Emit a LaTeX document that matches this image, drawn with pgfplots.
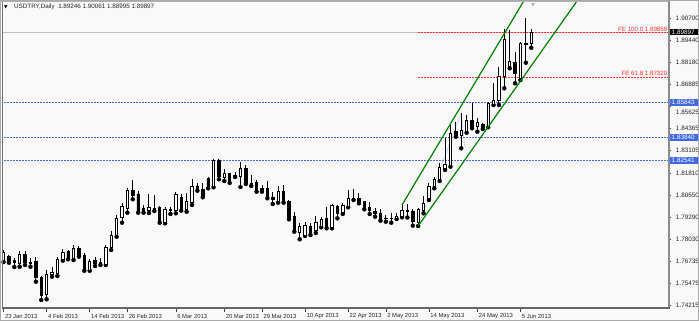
\documentclass[border=0pt]{standalone}
\usepackage{pgfplots}
\pgfplotsset{compat=1.18}
\usepackage{pgfplotstable}
\usepackage{fontspec}
\setmainfont{Liberation Sans}
\newfontfamily\symf{DejaVu Sans}
\definecolor{bgc}{RGB}{249,249,249}
\definecolor{framegray}{RGB}{170,170,170}
\definecolor{axgray}{RGB}{140,140,140}
\definecolor{lineblue}{RGB}{65,105,225}
\definecolor{fered}{RGB}{255,45,45}
\definecolor{chgreen}{RGB}{0,128,0}
\definecolor{pricegray}{RGB}{190,190,190}

\pgfplotstableread{
i o h l c
0 1.76804 1.77406 1.76718 1.77263
1 1.77022 1.77119 1.76678 1.76793
2 1.76793 1.76948 1.76432 1.76678
3 1.76661 1.77349 1.76449 1.77177
4 1.77177 1.77349 1.76546 1.76678
5 1.76690 1.76948 1.76449 1.76661
6 1.76736 1.77005 1.75590 1.75842
7 1.75842 1.75916 1.74541 1.74827
8 1.74885 1.76260 1.74581 1.76031
9 1.75991 1.76415 1.75876 1.76105
10 1.76071 1.76988 1.75916 1.76873
11 1.76873 1.77446 1.76793 1.77291
12 1.77349 1.77406 1.76873 1.76988
13 1.76930 1.77675 1.76833 1.77480
14 1.77503 1.77635 1.77022 1.77062
15 1.77119 1.77217 1.76220 1.76300
16 1.76260 1.76873 1.76220 1.76736
17 1.76793 1.76988 1.76489 1.76644
18 1.76718 1.76930 1.76546 1.76644
19 1.76604 1.77692 1.76546 1.77561
20 1.77561 1.78495 1.77406 1.78265
21 1.78265 1.79411 1.78168 1.79222
22 1.79280 1.80116 1.78970 1.79887
23 1.79795 1.80941 1.79543 1.80844
24 1.80844 1.81417 1.80311 1.80557
25 1.80615 1.80804 1.79543 1.79658
26 1.79795 1.79984 1.79543 1.79698
27 1.79698 1.80615 1.79526 1.79853
28 1.79784 1.80557 1.79641 1.79727
29 1.79853 1.79927 1.78970 1.79028
30 1.78970 1.79853 1.78936 1.79738
31 1.79698 1.79887 1.79469 1.79738
32 1.79698 1.80747 1.79509 1.80598
33 1.80426 1.80615 1.79658 1.79738
34 1.79738 1.80655 1.79601 1.80174
35 1.80139 1.81457 1.79984 1.81073
36 1.81073 1.81228 1.80804 1.80884
37 1.80884 1.81228 1.80426 1.80460
38 1.81514 1.81606 1.80941 1.81073
39 1.81073 1.82603 1.80999 1.82563
40 1.82563 1.82603 1.81457 1.81606
41 1.81572 1.82030 1.81360 1.81801
42 1.81801 1.81835 1.81245 1.81302
43 1.81703 1.81875 1.81589 1.81663
44 1.81646 1.82466 1.81016 1.82087
45 1.82087 1.82276 1.81188 1.81228
46 1.81245 1.81703 1.81073 1.81205
47 1.81262 1.81417 1.80747 1.80844
48 1.80941 1.81130 1.80747 1.80804
49 1.80941 1.81377 1.80368 1.80426
50 1.80426 1.80747 1.80042 1.80311
51 1.80174 1.81073 1.80116 1.80747
52 1.80747 1.81130 1.80116 1.80174
53 1.80174 1.80271 1.79165 1.79222
54 1.79337 1.79601 1.78455 1.78512
55 1.78437 1.78936 1.78019 1.78753
56 1.78265 1.78982 1.78208 1.78838
57 1.78781 1.78936 1.78265 1.78363
58 1.78552 1.79354 1.78380 1.79010
59 1.78741 1.79314 1.78707 1.79165
60 1.79222 1.79853 1.78649 1.78707
61 1.78707 1.80042 1.78649 1.79984
62 1.79927 1.79984 1.79222 1.79509
63 1.79543 1.80082 1.79469 1.79984
64 1.79887 1.80844 1.79853 1.80368
65 1.80368 1.80884 1.80271 1.80328
66 1.80368 1.80655 1.80082 1.80116
67 1.80174 1.80231 1.79738 1.79795
68 1.79853 1.80174 1.79469 1.79658
69 1.79601 1.79795 1.79314 1.79509
70 1.79509 1.79738 1.79085 1.79125
71 1.79240 1.79411 1.79028 1.79205
72 1.79205 1.79509 1.78970 1.79240
73 1.79222 1.79509 1.79182 1.79354
74 1.79314 1.79984 1.79280 1.79669
75 1.79658 1.80042 1.79268 1.79624
76 1.79641 1.79755 1.78800 1.79028
77 1.78970 1.79795 1.78781 1.79738
78 1.79698 1.80500 1.79509 1.80059
79 1.80368 1.81245 1.80271 1.81056
80 1.81033 1.81606 1.80941 1.81440
81 1.81440 1.82391 1.81360 1.82145
82 1.82087 1.83806 1.81990 1.82334
83 1.82276 1.84666 1.82179 1.84093
84 1.84185 1.84758 1.83898 1.83995
85 1.83995 1.85239 1.83233 1.84242
86 1.84185 1.85141 1.84127 1.84855
87 1.84815 1.85812 1.84379 1.84511
88 1.84511 1.84952 1.84185 1.84700
89 1.84609 1.84700 1.84339 1.84414
90 1.84471 1.85904 1.84437 1.85812
91 1.85772 1.86958 1.85714 1.86001
92 1.85961 1.87909 1.85714 1.87376
93 1.87336 1.90052 1.86671 1.89479
94 1.87909 1.90012 1.87817 1.88196
95 1.88138 1.88769 1.86958 1.87531
96 1.87244 1.89342 1.87147 1.89250
97 1.89250 1.90682 1.88138 1.89210
98 1.89246 1.90061 1.88995 1.89897
}\candles

\pgfplotsset{base/.style={width=665bp,height=305bp,scale only axis,
  xmin=-0.1,xmax=123.4,ymin=1.74140,ymax=1.91616}}

\begin{document}
\begin{tikzpicture}
\fill[bgc] (-3bp,-14bp) rectangle (696bp,307bp);
\useasboundingbox (-3bp,-14bp) rectangle (696bp,307bp);

% ---- background layer: levels, wicks, ticks
\begin{axis}[base,
  axis line style={draw=none},
  tick align=outside,
  xtick pos=left, ytick pos=right,
  xticklabel pos=left, yticklabel pos=right,
  xtick={0,8,16,23,32,41,48,56,64,71,79,88,96},
  xticklabels={23 Jan 2013,4 Feb 2013,14 Feb 2013,26 Feb 2013,6 Mar 2013,20 Mar 2013,29 Mar 2013,10 Apr 2013,22 Apr 2013,2 May 2013,14 May 2013,24 May 2013,5 Jun 2013},
  ytick={1.74215,1.75475,1.76735,1.78030,1.79290,1.80550,1.81810,1.83105,1.84365,1.86885,1.88180,1.89440,1.90700},
  yticklabels={1.74215,1.75475,1.76735,1.78030,1.79290,1.80550,1.81810,1.83105,1.84365,1.86885,1.88180,1.89440,1.90700},
  extra y ticks={1.85625},
  extra y tick labels={1.85625},
  extra y tick style={yticklabel style={yshift=-5.5bp}},
  xtick style={draw=black!75, line width=0.6bp, /pgfplots/major tick length=5bp},
  ytick style={draw=black!75, line width=0.6bp, /pgfplots/major tick length=2.5bp},
  xticklabel style={font=\fontsize{5.9}{6}\selectfont, anchor=west, inner sep=0pt, xshift=1.3bp, yshift=-5bp, text=black!85},
  yticklabel style={font=\fontsize{6.4}{7}\selectfont, anchor=west, inner sep=0pt, xshift=3.5bp, text=black!85},
]
\addplot[pricegray, line width=0.8bp] coordinates {(-1,1.89897) (130,1.89897)};
\addplot[lineblue, line width=0.7bp, dash pattern=on 1.5bp off 1.5bp] coordinates {(-1,1.85843) (130,1.85843)};
\addplot[lineblue, line width=0.7bp, dash pattern=on 1.5bp off 1.5bp] coordinates {(-1,1.83840) (130,1.83840)};
\addplot[lineblue, line width=0.7bp, dash pattern=on 1.5bp off 1.5bp] coordinates {(-1,1.82541) (130,1.82541)};
\addplot[fered, line width=0.7bp, dash pattern=on 1.5bp off 1.5bp] coordinates {(77,1.89858) (130,1.89858)};
\addplot[fered, line width=0.7bp, dash pattern=on 1.5bp off 1.5bp] coordinates {(77,1.87320) (130,1.87320)};
\addplot[lineblue!60, line width=0.6bp, dash pattern=on 1bp off 1.2bp] coordinates {(77,1.78781) (85,1.85239) (85.7,1.83233)};
\addplot[only marks, mark=none,
  error bars/.cd, y dir=plus, y explicit, error mark=none,
  error bar style={draw=black, line width=0.9bp}]
  table[x=i, y=l, y error plus expr=\thisrow{h}-\thisrow{l}] {\candles};
\end{axis}

% ---- candle bodies
\begin{axis}[base, hide axis, ybar stacked, bar width=2.4bp]
\addplot[draw=none, fill=none] table[x=i, y expr={min(\thisrow{o},\thisrow{c})}] {\candles};
\addplot[draw=black, fill=white, line width=0.9bp] table[x=i, y expr={max(\thisrow{c}-\thisrow{o},0)}] {\candles};
\addplot[draw=black, fill=black, line width=0.9bp] table[x=i, y expr={max(\thisrow{o}-\thisrow{c},0)}] {\candles};
\end{axis}

% ---- overlay: channel, labels, price boxes
\begin{axis}[base, hide axis, clip mode=individual]
\addplot[chgreen, line width=1.2bp] coordinates {(74,1.79984) (98,1.92392)};
\addplot[chgreen, line width=1.2bp] coordinates {(77,1.78781) (108,1.92328)};
\node[text=fered, anchor=south east, inner sep=0pt, yshift=1.3bp, font=\fontsize{6.2}{7}\selectfont] at (axis cs:123.3,1.89858) {FE 100.0 1.89858};
\node[text=fered, anchor=south east, inner sep=0pt, yshift=1.3bp, font=\fontsize{6.2}{7}\selectfont] at (axis cs:123.3,1.87320) {FE 61.8 1.87320};
\node[fill=black, text=white, anchor=west, inner xsep=2.5bp, inner ysep=0pt, text width=24.5bp, align=left, minimum height=6.7bp, xshift=1bp, font=\fontsize{6.4}{7}\selectfont] at (axis cs:123.4,1.89897) {1.89897};
\node[fill=lineblue, text=white, anchor=west, inner xsep=2.5bp, inner ysep=0pt, text width=24.5bp, align=left, minimum height=6.7bp, xshift=1bp, font=\fontsize{6.4}{7}\selectfont] at (axis cs:123.4,1.85843) {1.85843};
\node[fill=lineblue, text=white, anchor=west, inner xsep=2.5bp, inner ysep=0pt, text width=24.5bp, align=left, minimum height=6.7bp, xshift=1bp, font=\fontsize{6.4}{7}\selectfont] at (axis cs:123.4,1.83840) {1.83840};
\node[fill=lineblue, text=white, anchor=west, inner xsep=2.5bp, inner ysep=0pt, text width=24.5bp, align=left, minimum height=6.7bp, xshift=1bp, font=\fontsize{6.4}{7}\selectfont] at (axis cs:123.4,1.82541) {1.82541};
\end{axis}

% ---- frame
\draw[framegray, line width=1bp] (-2.5bp,-13.5bp) rectangle (695.5bp,306.5bp);
\draw[black!55, line width=1bp] (-0.5bp,0bp) -- (-0.5bp,305.5bp);
\draw[black!30, line width=0.8bp] (-3bp,305.6bp) -- (666bp,305.6bp);
\draw[axgray, line width=2bp] (666bp,-1.5bp) -- (666bp,306bp);
\draw[black!60, line width=1.5bp] (-1bp,-0.75bp) -- (667bp,-0.75bp);

% ---- title
\node[anchor=west, inner sep=0pt, font=\symf\fontsize{4.5}{5}\selectfont] at (1bp,300bp) {▼};
\node[anchor=west, inner sep=0pt, font=\fontsize{6.3}{7}\selectfont, text=black!85] at (11bp,300bp) {USDTRY,Daily\ \ 1.89246 1.90061 1.88995 1.89897};
\node[anchor=center, inner sep=0pt, text=black!35, font=\symf\fontsize{4.5}{5}\selectfont] at (530bp,302bp) {▼};
\end{tikzpicture}
\end{document}
